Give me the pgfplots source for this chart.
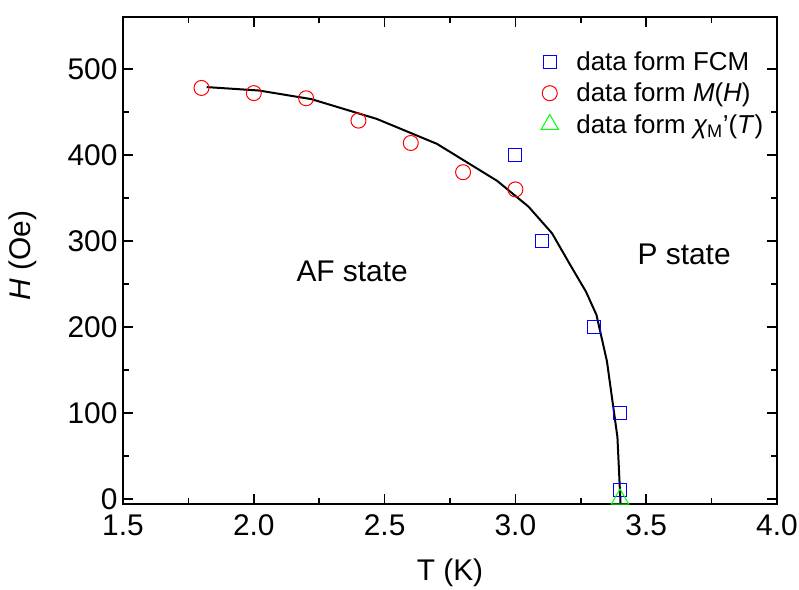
\documentclass[border=0pt]{standalone}
\usepackage{pgfplots}
\pgfplotsset{compat=1.18}
\usepackage{fontspec}
\setmainfont{Liberation Sans}
\begin{document}
\begin{tikzpicture}
\path[use as bounding box] (-123bp,-86bp) rectangle (676bp,504bp);
\begin{axis}[
  at={(0,0)}, anchor=south west,
  scale only axis, width=654bp, height=487bp,
  xmin=1.5, xmax=4.0, ymin=-5.8, ymax=560.5,
  xtick={1.5,2.0,2.5,3.0,3.5,4.0}, ytick={0,100,200,300,400,500},
  minor x tick num=1, minor y tick num=1,
  tick align=inside,
  major tick length=10bp, minor tick length=6bp,
  axis line style={line width=1.8bp},
  every tick/.style={black, line width=1.6bp},
  xticklabel style={/pgf/number format/fixed, /pgf/number format/fixed zerofill, /pgf/number format/precision=1, yshift=-7bp},
  yticklabel style={xshift=-2bp},
  /pgf/number format/assume math mode=true,
  tick label style={font=\fontsize{30}{36}\selectfont},
  label style={font=\fontsize{30}{36}\selectfont},
  xlabel={T (K)}, ylabel={\textit{H} (Oe)},
  xlabel style={at={(rel axis cs:0.5,0)}, anchor=center, yshift=-69bp},
  ylabel style={at={(rel axis cs:-0.153,0.51)}, anchor=center},
  legend style={at={(rel axis cs:0.639,0.933)}, anchor=north west, draw=none, fill=none,
    font=\fontsize{26}{31}\selectfont, row sep=7bp, inner sep=0pt},
  legend cell align=left,
  clip mode=individual,
]
\addplot[black, line width=2bp, forget plot]
  coordinates {(1.82,479) (2.02,475) (2.22,465) (2.47,442) (2.70,413) (2.93,370) (3.05,340) (3.14,309) (3.21,272) (3.27,241) (3.31,214) (3.35,160) (3.39,72) (3.402,-5.8)};
\addplot[only marks, mark=square, mark size=6.5bp, mark options={draw=blue, line width=1bp, fill=none}]
  coordinates {(3.0,400) (3.1,300) (3.3,200) (3.4,100) (3.4,10)};
\addlegendentry{\hspace{16bp}data form FCM}
\addplot[only marks, mark=o, mark size=7.5bp, mark options={draw=red, line width=1bp, fill=none}]
  coordinates {(1.8,478) (2.0,472) (2.2,466) (2.4,440) (2.6,414) (2.8,380) (3.0,360)};
\addlegendentry{\hspace{16bp}data form \textit{M}(\textit{H})}
\addplot[only marks, mark=triangle, mark size=10bp, mark options={draw=green, line width=1bp, fill=none}]
  coordinates {(3.4,0)};
\addlegendentry{\hspace{16bp}data form {\itshape χ}\textsubscript{M}'(\textit{T})}
\node[font=\fontsize{30}{36}\selectfont] at (axis cs:2.376,265) {AF state};
\node[font=\fontsize{30}{36}\selectfont] at (axis cs:3.645,285) {P state};
\end{axis}
\end{tikzpicture}
\end{document}
